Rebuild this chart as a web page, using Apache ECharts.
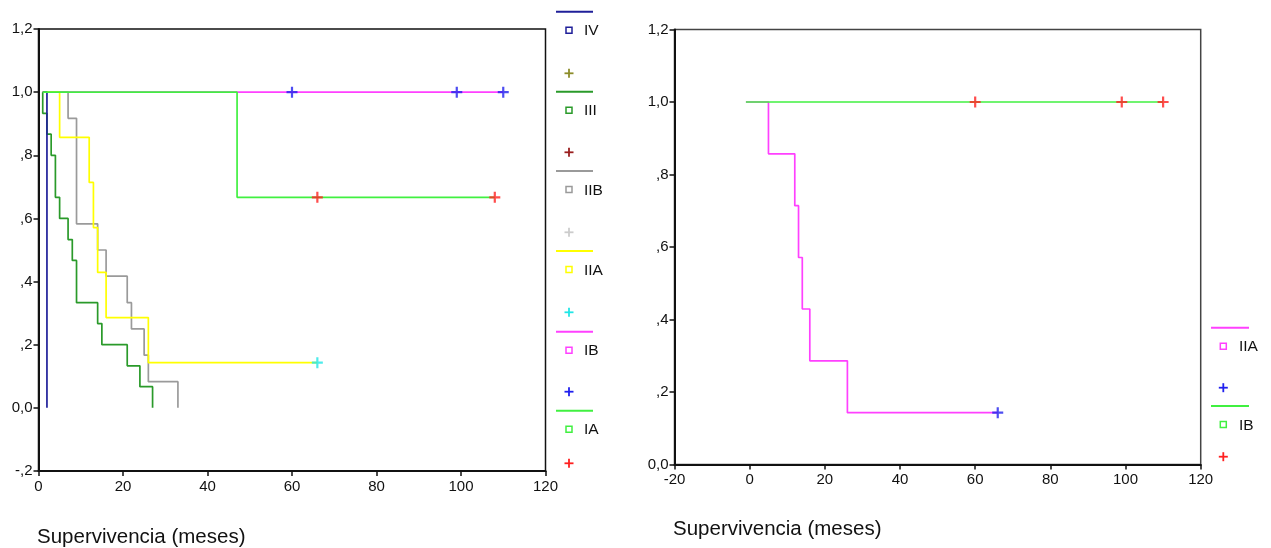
<!DOCTYPE html>
<html>
<head>
<meta charset="utf-8">
<script src="https://cdn.jsdelivr.net/npm/echarts@6/dist/echarts.min.js"></script>
<style>
  html, body { margin: 0; padding: 0; background: #ffffff; }
  #chart { width: 1271px; height: 548px; }
</style>
</head>
<body>
<div id="chart"></div>
<script>
// Kaplan-Meier survival curves by stage. Times in months, survival as a proportion.

// ---- Left panel: all stages ----
const stageNames = ['IV', 'III', 'IIB', 'IIA', 'IB', 'IA'];

const ivTime = [1, 2];
const ivSurv = [1, 0];

const iiiTime = [1, 1, 2, 3, 4, 5, 7, 8, 9, 14, 15, 21, 24, 27];
const iiiSurv = [1, 0.933, 0.867, 0.8, 0.667, 0.6, 0.533, 0.467, 0.333, 0.267, 0.2, 0.133, 0.067, 0];

const iibTime = [1, 7, 9, 14, 16, 21, 22, 25, 26, 33];
const iibSurv = [1, 0.917, 0.583, 0.5, 0.417, 0.333, 0.25, 0.167, 0.083, 0];

const iiaTime = [1, 5, 12, 13, 14, 16, 26, 66];
const iiaSurv = [1, 0.857, 0.714, 0.571, 0.429, 0.286, 0.143, 0.143];
const iiaCensTime = [66];
const iiaCensSurv = [0.143];

const ibTime = [1, 110];
const ibSurv = [1, 1];
const ibCensTime = [60, 99, 110];
const ibCensSurv = [1, 1, 1];

const iaTime = [1, 47, 108];
const iaSurv = [1, 0.667, 0.667];
const iaCensTime = [66, 108];
const iaCensSurv = [0.667, 0.667];

// ---- Right panel: IIA vs IB ----
const rightNames = ['IIA', 'IB'];

const rIiaTime = [-1, 5, 12, 13, 14, 16, 26, 66];
const rIiaSurv = [1, 0.857, 0.714, 0.571, 0.429, 0.286, 0.143, 0.143];
const rIiaCensTime = [66];
const rIiaCensSurv = [0.143];

const rIbTime = [-1, 110];
const rIbSurv = [1, 1];
const rIbCensTime = [60, 99, 110];
const rIbCensSurv = [1, 1, 1];

// ---- Axis tick labels ----
const leftYLabels = ['-,2', '0,0', ',2', ',4', ',6', ',8', '1,0', '1,2'];
const rightYLabels = ['0,0', ',2', ',4', ',6', ',8', '1,0', '1,2'];
const axisTitle = 'Supervivencia (meses)';

// ---- Styling ----
const FONT = '"Liberation Sans", Arial, Helvetica, sans-serif';
const leftColors = {
  IV:  { line: '#1f1f99', cens: '#8c8c2a' },
  III: { line: '#2a9a2a', cens: '#9a1f1f' },
  IIB: { line: '#9a9a9a', cens: '#cccccc' },
  IIA: { line: '#ffff00', cens: '#22e6e6' },
  IB:  { line: '#ff40ff', cens: '#2020ee' },
  IA:  { line: '#40f040', cens: '#ff2020' }
};
const rightColors = {
  IIA: { line: '#ff40ff', cens: '#2020ee' },
  IB:  { line: '#40f040', cens: '#ff2020' }
};

const PLUS = 'path://M4,0H6V4H10V6H6V10H4V6H0V4H4Z';

function pairs(xs, ys) { return xs.map((x, i) => [x, ys[i]]); }

function kmLine(name, xs, ys, color, idx, z) {
  return {
    name: name, type: 'line', step: 'end',
    xAxisIndex: idx, yAxisIndex: idx,
    data: pairs(xs, ys),
    showSymbol: false, symbol: 'none',
    lineStyle: { color: color, width: 1.7 },
    z: z, silent: true
  };
}
function censor(name, xs, ys, color, idx) {
  return {
    name: name, type: 'scatter',
    xAxisIndex: idx, yAxisIndex: idx,
    data: pairs(xs, ys),
    symbol: PLUS, symbolSize: 11,
    itemStyle: { color: color },
    z: 10, silent: true
  };
}

function yAxisCfg(idx, min, labels) {
  return {
    type: 'value', gridIndex: idx, min: min, max: 1.2, interval: 0.2,
    axisLine: { show: true, onZero: false, lineStyle: { color: '#111', width: 2 } },
    axisTick: { show: true, inside: false, length: 5, lineStyle: { color: '#111', width: 1.5 } },
    splitLine: { show: false },
    axisLabel: {
      margin: 6, color: '#111', fontSize: 15, fontFamily: FONT,
      formatter: v => labels[Math.round((v - min) / 0.2)]
    }
  };
}
function xAxisCfg(idx, min) {
  return {
    type: 'value', gridIndex: idx, min: min, max: 120, interval: 20,
    axisLine: { show: true, onZero: false, lineStyle: { color: '#111', width: 2 } },
    axisTick: { show: true, inside: false, length: 5, lineStyle: { color: '#111', width: 1.5 } },
    splitLine: { show: false },
    axisLabel: { margin: 8, color: '#111', fontSize: 15, fontFamily: FONT }
  };
}

// ---- Legend drawn as graphics (line sample, hollow square + name, censor cross) ----
function legendItems(names, colors, lineX1, lineX2, markX, textX, lineYs, plusYs) {
  const out = [];
  names.forEach((n, i) => {
    const ly = lineYs[i], sy = ly + 18.5, py = plusYs[i];
    const c = colors[n];
    out.push({ type: 'line', shape: { x1: lineX1, y1: ly, x2: lineX2, y2: ly },
      style: { stroke: c.line, lineWidth: 2 }, silent: true });
    out.push({ type: 'rect', shape: { x: markX - 3, y: sy - 3, width: 6, height: 6 },
      style: { fill: '#fff', stroke: c.line, lineWidth: 1.5 }, silent: true });
    out.push({ type: 'text', x: textX, y: sy + 1,
      style: { text: n, fill: '#111', font: '15.5px ' + FONT,
        align: 'left', verticalAlign: 'middle', textAlign: 'left', textVerticalAlign: 'middle' },
      silent: true });
    out.push({ type: 'line', shape: { x1: markX - 4.5, y1: py, x2: markX + 4.5, y2: py },
      style: { stroke: c.cens, lineWidth: 1.8 }, silent: true });
    out.push({ type: 'line', shape: { x1: markX, y1: py - 4.5, x2: markX, y2: py + 4.5 },
      style: { stroke: c.cens, lineWidth: 1.8 }, silent: true });
  });
  return out;
}

const graphics = []
  .concat(legendItems(stageNames, leftColors, 556, 593, 569, 584,
    [11.7, 91.7, 171, 251, 331.7, 410.7], [73.3, 152.3, 232.3, 312.3, 391.7, 463.3]))
  .concat(legendItems(rightNames, rightColors, 1211, 1249, 1223.3, 1239,
    [327.7, 406], [387.7, 456.7]))
  .concat([
    { type: 'text', x: 37, y: 537,
      style: { text: axisTitle, fill: '#111', font: '20.5px ' + FONT,
        align: 'left', verticalAlign: 'middle', textAlign: 'left', textVerticalAlign: 'middle' } },
    { type: 'text', x: 673, y: 529,
      style: { text: axisTitle, fill: '#111', font: '20.5px ' + FONT,
        align: 'left', verticalAlign: 'middle', textAlign: 'left', textVerticalAlign: 'middle' } }
  ]);

const option = {
  animation: false,
  backgroundColor: '#ffffff',
  grid: [
    { left: 38.5, right: 1271 - 545.5, top: 29, bottom: 548 - 471,
      show: true, borderColor: '#111', borderWidth: 1.5, backgroundColor: 'transparent' },
    { left: 674.5, right: 1271 - 1200.7, top: 29.5, bottom: 548 - 464.5,
      show: true, borderColor: '#444', borderWidth: 1.5, backgroundColor: 'transparent' }
  ],
  xAxis: [xAxisCfg(0, 0), xAxisCfg(1, -20)],
  yAxis: [yAxisCfg(0, -0.2, leftYLabels), yAxisCfg(1, 0, rightYLabels)],
  graphic: graphics,
  series: [
    // left panel
    kmLine('IB', ibTime, ibSurv, leftColors.IB.line, 0, 2),
    kmLine('IIB', iibTime, iibSurv, leftColors.IIB.line, 0, 3),
    kmLine('IIA', iiaTime, iiaSurv, leftColors.IIA.line, 0, 4),
    kmLine('III', iiiTime, iiiSurv, leftColors.III.line, 0, 5),
    kmLine('IV', ivTime, ivSurv, leftColors.IV.line, 0, 6),
    kmLine('IA', iaTime, iaSurv, leftColors.IA.line, 0, 7),
    censor('IIA', iiaCensTime, iiaCensSurv, leftColors.IIA.cens, 0),
    censor('IB', ibCensTime, ibCensSurv, leftColors.IB.cens, 0),
    censor('IA', iaCensTime, iaCensSurv, leftColors.IA.cens, 0),
    // right panel
    kmLine('IIA', rIiaTime, rIiaSurv, rightColors.IIA.line, 1, 3),
    kmLine('IB', rIbTime, rIbSurv, rightColors.IB.line, 1, 4),
    censor('IIA', rIiaCensTime, rIiaCensSurv, rightColors.IIA.cens, 1),
    censor('IB', rIbCensTime, rIbCensSurv, rightColors.IB.cens, 1)
  ]
};

const chart = echarts.init(document.getElementById('chart'), null, { renderer: 'canvas' });
chart.setOption(option);
</script>
</body>
</html>
